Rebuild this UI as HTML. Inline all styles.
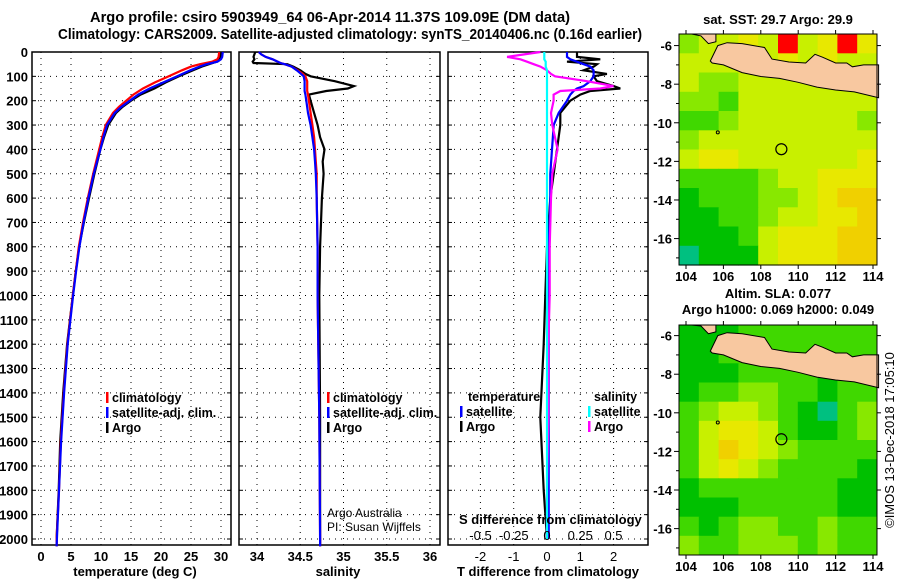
<!DOCTYPE html>
<html><head><meta charset="utf-8">
<style>
body{margin:0;background:#fff;}
svg{display:block;font-family:"Liberation Sans",Arial,sans-serif;}
.b{font-weight:bold;}
</style></head>
<body>
<svg id="fig" width="900" height="580" viewBox="0 0 900 580" xmlns="http://www.w3.org/2000/svg">
<text x="330" y="22" class="b" font-size="15" text-anchor="middle" textLength="480" lengthAdjust="spacingAndGlyphs">Argo profile: csiro 5903949_64 06-Apr-2014 11.37S 109.09E (DM data)</text>
<text x="350" y="39" class="b" font-size="15" text-anchor="middle" textLength="584" lengthAdjust="spacingAndGlyphs">Climatology: CARS2009. Satellite-adjusted climatology: synTS_20140406.nc (0.16d earlier)</text>
<g id="g1"></g>
<g id="g2"></g>
<g id="g3"></g>
<g id="m1"></g>
<g id="m2"></g>
<text x="778" y="24" class="b" font-size="13" text-anchor="middle">sat. SST: 29.7 Argo: 29.9</text>
<text x="778" y="298" class="b" font-size="13" text-anchor="middle">Altim. SLA: 0.077</text>
<text x="778" y="314" class="b" font-size="13" text-anchor="middle">Argo h1000: 0.069 h2000: 0.049</text>
<text transform="translate(894,440) rotate(-90)" font-size="13" text-anchor="middle">©IMOS 13-Dec-2018 17:05:10</text>
</svg>
<script>
// ---- data ----
const depthT=[0,20,30,40,50,60,75,100,125,150,175,200,225,250,300,350,400,500,600,700,800,900,1000,1200,1400,1600,1800,2000,2030];
const climT=[29.7,29.6,29.4,28.5,26.5,25,23.5,21.3,19,17,15.4,14.2,13,12,10.8,10.2,9.7,8.7,7.8,7.0,6.3,5.8,5.3,4.4,3.8,3.3,3.0,2.6,2.6];
const satT=[30.3,30.2,30.0,29.4,27.6,26.4,24.9,22.7,20.4,18.1,16.2,14.8,13.4,12.3,11.0,10.4,9.9,8.8,7.9,7.1,6.4,5.85,5.35,4.45,3.85,3.35,3.0,2.65,2.6];
const argoT=[30.0,29.9,29.8,29.3,28.0,26.8,25.3,23.0,20.8,18.9,16.6,15.0,13.6,12.5,11.2,10.5,9.9,8.9,8.0,7.15,6.35,5.8,5.3,4.35,3.7,3.2,2.95,2.6,2.6];
const depthS=[0,10,20,30,40,45,50,60,75,90,100,120,140,150,160,175,200,250,300,350,400,450,500,600,800,1000,1500,2000,2030];
const climS=[34.02,34.05,34.1,34.18,34.24,34.27,34.32,34.4,34.47,34.53,34.56,34.58,34.58,34.58,34.58,34.59,34.6,34.62,34.64,34.66,34.67,34.68,34.69,34.69,34.70,34.70,34.72,34.73,34.73];
const satS=[34.02,34.05,34.1,34.18,34.24,34.27,34.32,34.4,34.46,34.51,34.54,34.55,34.55,34.55,34.55,34.56,34.57,34.59,34.62,34.64,34.66,34.67,34.68,34.69,34.70,34.70,34.72,34.73,34.73];
const argoS=[33.98,33.97,33.96,33.97,33.95,33.96,34.35,34.42,34.5,34.56,34.62,34.9,35.12,35.05,34.8,34.6,34.62,34.66,34.7,34.73,34.78,34.76,34.77,34.75,34.73,34.72,34.73,34.73,34.73];
const depthD=[0,20,30,40,50,60,75,90,100,120,140,150,160,175,200,250,300,400,500,600,800,1000,1200,1500,1800,2000];
const tdSat=[0.6,0.6,0.7,0.9,1.1,1.3,1.4,1.4,1.4,1.3,1.1,0.9,0.8,0.7,0.6,0.35,0.2,0.15,0.1,0.1,0.05,0.05,0.05,0.05,0.05,0.05];
const tdArgo=[0.9,0.9,1.6,0.6,1.5,1.4,1.1,1.8,1.4,1.5,2.0,2.2,1.3,1.0,0.7,0.4,0.4,0.3,0.2,0.1,0,-0.05,-0.1,-0.2,-0.1,0];
const sdArgo=[-0.05,-0.3,-0.2,-0.15,-0.1,-0.05,0,0.03,0.06,0.3,0.5,0.4,0.1,0.05,0.05,0.03,0.04,0.08,0.04,0.03,0.02,0.02,0.01,0.01,0,0];
const sdSat=[-0.02,-0.02,-0.02,-0.01,-0.01,-0.01,0,0,0,0,0,0,0,0,0,0,0,0,0,0,0,0,0,0,0,0];
const depthTicks=[0,100,200,300,400,500,600,700,800,900,1000,1100,1200,1300,1400,1500,1600,1700,1800,1900,2000];
const tempTicks=[0,5,10,15,20,25,30];
const salTicks=[34,34.5,35,35.5,36];
const tdTicks=[-2,-1,0,1,2];
const sdTicks=[-0.5,-0.25,0,0.25,0.5];
const sdLabels=["-0.5","-0.25","0","0.25","0.5"];
const sstGrid=[
[3,4,4,5,4,7,4,5,7,5],[4,4,4,5,4,5,4,5,4,4],[4,3,3,4,4,4,4,4,4,4],[3,3,2,4,4,4,4,4,4,4],
[2,2,3,4,4,4,4,4,4,3],[3,4,4,4,4,4,4,4,4,4],[4,5,5,4,4,4,4,4,4,5],[2,2,2,2,3,4,4,5,5,5],
[1,2,2,2,3,3,4,5,6,6],[1,1,2,2,3,4,4,5,5,6],[1,1,1,2,4,5,5,5,6,6],[0,1,1,1,4,5,5,5,6,6]];
const slaGrid=[
[1,1,1,2,2,2,2,2,2,2],[1,1,2,2,2,2,2,2,2,2],[1,1,1,2,2,2,2,1,2,2],[1,2,2,3,3,2,2,1,2,2],
[2,3,4,4,3,2,1,0,2,3],[2,4,5,5,4,2,1,1,2,3],[2,4,6,5,4,3,2,2,2,2],[2,4,5,4,3,2,2,2,2,1],
[1,2,2,2,2,2,2,2,1,1],[1,1,1,2,2,2,2,2,1,1],[2,1,2,3,3,2,2,3,2,2],[3,2,2,3,3,3,2,3,2,2]];
const latTicks=[-6,-8,-10,-12,-14,-16];
const lonTicks=[104,106,108,110,112,114];
const argoLon=109.1, argoLat=-11.37;

// ---- helpers ----
const NS="http://www.w3.org/2000/svg";
function mk(tag,at,parent){const e=document.createElementNS(NS,tag);for(const k in at)e.setAttribute(k,at[k]);parent.appendChild(e);return e;}
function txt(parent,x,y,s,size,anchor,bold){const t=mk('text',{x:x,y:y,'font-size':size,'text-anchor':anchor||'start'},parent);if(bold!==false)t.setAttribute('font-weight','bold');t.textContent=s;return t;}
const TOP=52,BOT=545;
const yD=d=>TOP+d*0.2435;
const xT=v=>41+v*6, xS=v=>257+(v-34)*86.5, xTD=v=>547+v*33.3, xSD=v=>547+v*133;

function frame(g,x0,x1,vgrid,leftLabels){
  depthTicks.forEach(d=>{ if(d>0){const l=mk('line',{x1:x0,x2:x1,y1:yD(d),y2:yD(d),stroke:'#000','stroke-width':1,'stroke-dasharray':'1,5'},g);
    }
    mk('line',{x1:x0,x2:x0+4,y1:yD(d),y2:yD(d),stroke:'#000'},g);
    mk('line',{x1:x1-4,x2:x1,y1:yD(d),y2:yD(d),stroke:'#000'},g);
    if(leftLabels){const t=txt(g,28,yD(d)+5,String(d),13,'end');}
  });
  vgrid.forEach(x=>{const l=mk('line',{x1:x,x2:x,y1:TOP,y2:BOT,stroke:'#000','stroke-dasharray':'1,5'},g);
    });
  const r=mk('rect',{x:x0,y:TOP,width:x1-x0,height:BOT-TOP,fill:'none',stroke:'#000','stroke-width':1.5},g);
  
}
function series(g,depths,vals,xf,color,name){
  const pts=depths.map((d,i)=>xf(vals[i]).toFixed(1)+','+yD(d).toFixed(1)).join(' ');
  const p=mk('polyline',{points:pts,fill:'none',stroke:color,'stroke-width':2.2},g);
  
}
function legend(g,x,y,color,label,name){
  mk('rect',{x:x,y:y-10,width:2.5,height:11,fill:color},g);
  const t=txt(g,x+6,y,label,12.5,'start');
  
}

// ---- panel 1 ----
const g1=document.getElementById('g1');
frame(g1,32,231,tempTicks.map(xT),true);
series(g1,depthT,argoT,xT,'#000','argo-temperature-line');
series(g1,depthT,climT,xT,'#f00','climatology-temperature-line');
series(g1,depthT,satT,xT,'#00f','satellite-temperature-line');
tempTicks.forEach(v=>{const t=txt(g1,xT(v),561,String(v),13,'middle');});
{const t=txt(g1,135,576,'temperature (deg C)',13,'middle');}
legend(g1,106,402,'#f00','climatology','legend-climatology');
legend(g1,106,417,'#00f','satellite-adj. clim.','legend-satellite');
legend(g1,106,432,'#000','Argo','legend-argo');

// ---- panel 2 ----
const g2=document.getElementById('g2');
frame(g2,239,440,salTicks.map(xS),false);
series(g2,depthS,argoS,xS,'#000','argo-salinity-line');
series(g2,depthS,climS,xS,'#f00','climatology-salinity-line');
series(g2,depthS,satS,xS,'#00f','satellite-salinity-line');
salTicks.forEach(v=>{const t=txt(g2,xS(v),561,String(v),13,'middle');});
{const t=txt(g2,338,576,'salinity',13,'middle');}
legend(g2,327,402,'#f00','climatology','legend-climatology-2');
legend(g2,327,417,'#00f','satellite-adj. clim.','legend-satellite-2');
legend(g2,327,432,'#000','Argo','legend-argo-2');
{const t=txt(g2,327,517,'Argo Australia',12,'start',false);
 const t2=txt(g2,327,531,'PI: Susan Wijffels',12,'start',false);}

// ---- panel 3 ----
const g3=document.getElementById('g3');
frame(g3,448,648,[-2,-1,1,2].map(xTD),false);
series(g3,depthD,tdArgo,xTD,'#000','argo-temperature-diff-line');
series(g3,depthD,tdSat,xTD,'#00f','satellite-temperature-diff-line');
series(g3,depthD,sdArgo,xSD,'#f0f','argo-salinity-diff-line');
series(g3,depthD,sdSat,xSD,'#0ff','satellite-salinity-diff-line');
tdTicks.forEach(v=>{const t=txt(g3,xTD(v),561,String(v),13,'middle',false);});
sdTicks.forEach((v,i)=>{const t=txt(g3,xSD(v),540,sdLabels[i],13,'middle',false);});
{const t=txt(g3,459,524,'S difference from climatology',13,'start');
 const t2=txt(g3,548,576,'T difference from climatology',13,'middle');
 const t3=txt(g3,468,401,'temperature',12.5,'start');
 const t4=txt(g3,594,401,'salinity',12.5,'start');}
legend(g3,460,416,'#00f','satellite','legend-temp-satellite');
legend(g3,460,431,'#000','Argo','legend-temp-argo');
legend(g3,588,416,'#0ff','satellite','legend-sal-satellite');
legend(g3,588,431,'#f0f','Argo','legend-sal-argo');

// ---- maps ----
const pal=['#00c080','#00c000','#40d800','#88e800','#c8f000','#e8e800','#f0d000','#ff0000'];
const MX0=679,MX1=877;
const lonX=lo=>686+(lo-104)*18.7;
function drawMap(g,top,bottom,latTop,grid,label){
  const latY=la=>top+(latTop-la)*19.3;
  const cw=(MX1-MX0)/10,ch=(bottom-top)/12;
  grid.forEach((row,r)=>row.forEach((v,c)=>{
    const cell=mk('rect',{x:(MX0+c*cw).toFixed(1),y:(top+r*ch).toFixed(1),width:(cw+0.5).toFixed(1),height:(ch+0.5).toFixed(1),fill:pal[v]},g);
    
    
  }));
  const java=[[105.3,-6.8],[105.7,-6.0],[106.2,-5.85],[107,-5.9],[108.2,-6.1],[108.6,-6.7],[109.5,-6.85],[110.4,-6.9],[110.9,-6.45],[111.3,-6.6],[112,-6.9],[112.6,-6.9],[112.9,-7.1],[113.5,-7.0],[114.3,-7.0],[114.3,-8.7],[113,-8.4],[112,-8.3],[111,-8.15],[110,-7.9],[109,-7.7],[108,-7.6],[107,-7.4],[106,-7.0],[105.4,-6.9]];
  const sum=[[104.3,-5.34],[105.6,-5.34],[105.6,-5.8],[105.2,-5.9],[104.8,-5.5]];
  [java,sum].forEach((poly,i)=>{
    const p=mk('polygon',{points:poly.map(q=>lonX(Math.min(q[0],114.35)).toFixed(1)+','+latY(Math.min(q[1],latTop)).toFixed(1)).join(' '),fill:'#f8c8a0',stroke:'#000','stroke-width':1},g);
    
  });
  const c=mk('circle',{cx:lonX(argoLon),cy:latY(argoLat),r:5.5,fill:'none',stroke:'#000','stroke-width':1.2},g);
  
  mk('circle',{cx:lonX(105.7),cy:latY(-10.5),r:1.5,fill:'none',stroke:'#000'},g);
  const fr=mk('rect',{x:MX0,y:top,width:MX1-MX0,height:bottom-top,fill:'none',stroke:'#000','stroke-width':1},g);
  
  latTicks.forEach(la=>{mk('line',{x1:MX0-5,x2:MX0,y1:latY(la),y2:latY(la),stroke:'#000'},g);
    mk('line',{x1:MX1,x2:MX1+4,y1:latY(la),y2:latY(la),stroke:'#000'},g);
    const t=txt(g,672,latY(la)+5,String(la),13,'end');});
  [-7,-9,-11,-13,-15,-17].forEach(la=>{if(latY(la)<bottom){mk('line',{x1:MX0-3,x2:MX0,y1:latY(la),y2:latY(la),stroke:'#000'},g);}});
  lonTicks.forEach(lo=>{mk('line',{x1:lonX(lo),x2:lonX(lo),y1:bottom,y2:bottom+4,stroke:'#000'},g);
    mk('line',{x1:lonX(lo),x2:lonX(lo),y1:top-4,y2:top,stroke:'#000'},g);
    const t=txt(g,lonX(lo),bottom+16,String(lo),13,'middle');});
}
drawMap(document.getElementById('m1'),34,265,-5.4,sstGrid,'sst-map');
drawMap(document.getElementById('m2'),325,555,-5.45,slaGrid,'sla-map');
</script>
</body></html>
